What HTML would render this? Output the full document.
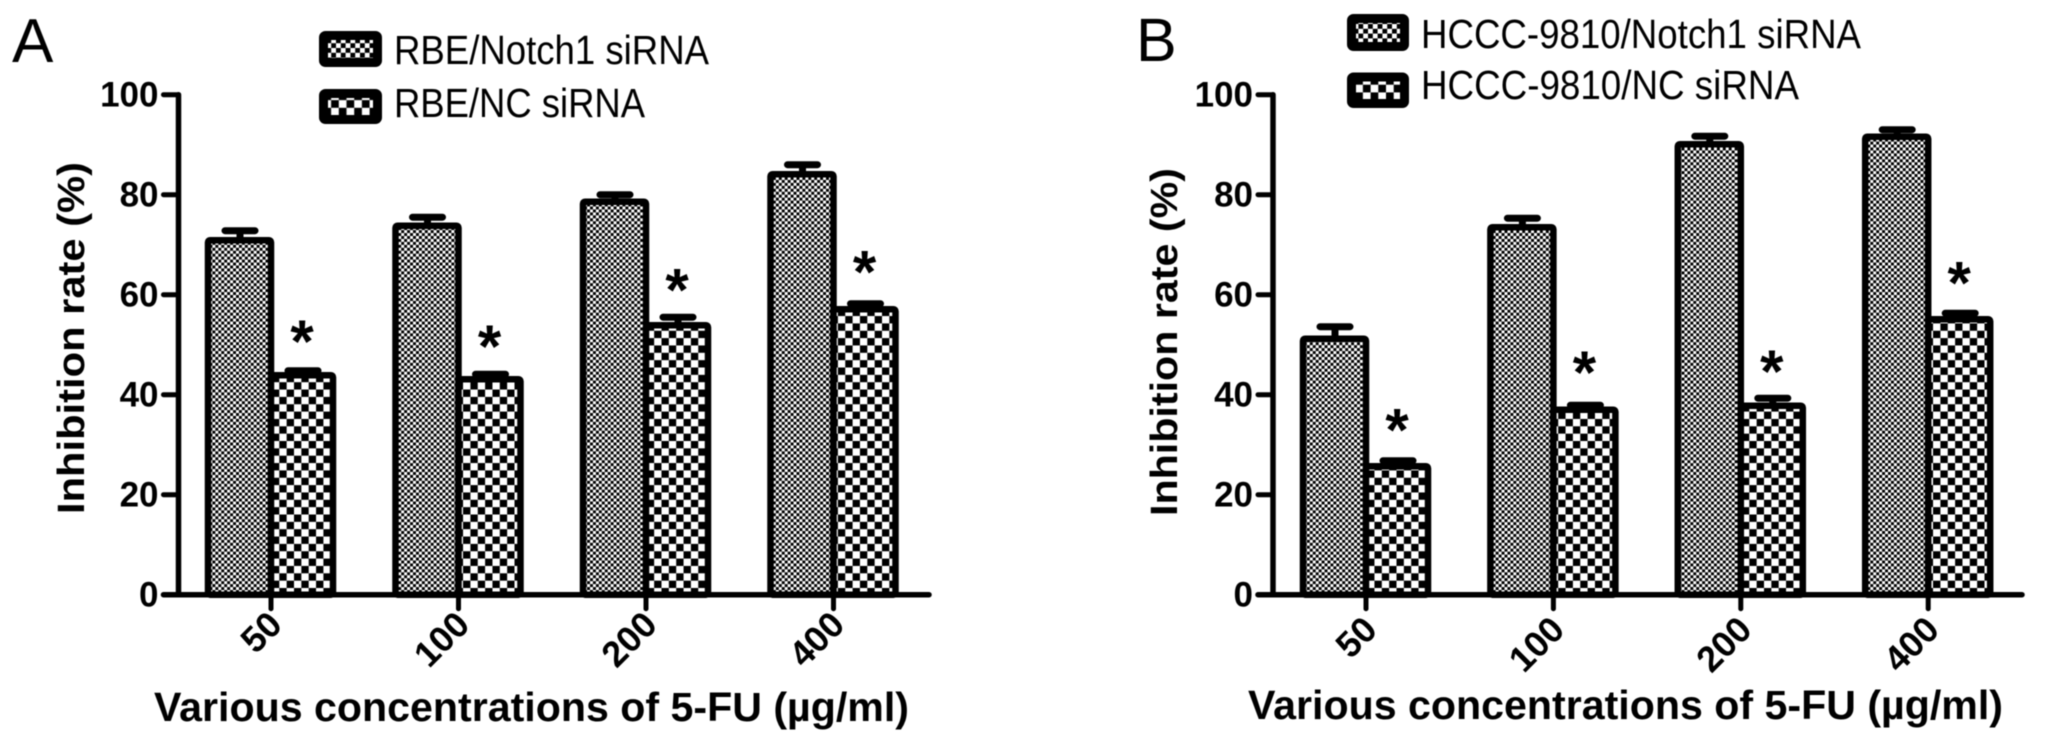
<!DOCTYPE html>
<html lang="en">
<head>
<meta charset="utf-8">
<title>Inhibition rate of 5-FU in RBE and HCCC-9810 cells</title>
<style>
html,body{margin:0;padding:0;background:#fff;width:2067px;height:743px;overflow:hidden}
svg{display:block;filter:blur(0.6px)}
text{font-family:"Liberation Sans",sans-serif;fill:#000}
.b{font-weight:bold}
</style>
</head>
<body>
<svg id="figure" xmlns="http://www.w3.org/2000/svg" width="2067" height="743" viewBox="0 0 2067 743">
<defs>
<pattern id="fine" width="5.9" height="5.9" patternUnits="userSpaceOnUse"><rect width="5.9" height="5.9" fill="#fff"/><rect width="2.95" height="2.95" fill="#000"/><rect x="2.95" y="2.95" width="2.95" height="2.95" fill="#000"/></pattern>
<pattern id="coarse" width="14.7" height="14.7" patternUnits="userSpaceOnUse"><rect width="14.7" height="14.7" fill="#fff"/><rect width="7.35" height="7.35" fill="#000"/><rect x="7.35" y="7.35" width="7.35" height="7.35" fill="#000"/></pattern>
<pattern id="fine-legend" width="9.6" height="9.6" patternUnits="userSpaceOnUse"><rect width="9.6" height="9.6" fill="#fff"/><rect width="4.8" height="4.8" fill="#000"/><rect x="4.8" y="4.8" width="4.8" height="4.8" fill="#000"/></pattern>
<pattern id="coarse-legend" width="15.4" height="15.4" patternUnits="userSpaceOnUse"><rect width="15.4" height="15.4" fill="#fff"/><rect width="7.7" height="7.7" fill="#000"/><rect x="7.7" y="7.7" width="7.7" height="7.7" fill="#000"/></pattern>
</defs>

<text x="12" y="62" font-size="62">A</text>
<text x="1136" y="61" font-size="61">B</text>

<g>
<rect x="323.5" y="35.5" width="54" height="27" rx="2" fill="url(#fine-legend)" stroke="#000" stroke-width="9"/>
<text x="394" y="64" font-size="41" textLength="315" lengthAdjust="spacingAndGlyphs">RBE/Notch1 siRNA</text>
<rect x="323.5" y="93.5" width="54" height="26" rx="2" fill="url(#coarse-legend)" stroke="#000" stroke-width="9"/>
<text x="394" y="117" font-size="41" textLength="251" lengthAdjust="spacingAndGlyphs">RBE/NC siRNA</text>
</g>
<g>
<rect x="1351.5" y="18.5" width="53" height="28" rx="2" fill="url(#fine-legend)" stroke="#000" stroke-width="9"/>
<text x="1421" y="48" font-size="41" textLength="440" lengthAdjust="spacingAndGlyphs">HCCC-9810/Notch1 siRNA</text>
<rect x="1351.5" y="77" width="53" height="26.5" rx="2" fill="url(#coarse-legend)" stroke="#000" stroke-width="9"/>
<text x="1421" y="99" font-size="41" textLength="378" lengthAdjust="spacingAndGlyphs">HCCC-9810/NC siRNA</text>
</g>

<text class="b" transform="translate(84,338) rotate(-90)" text-anchor="middle" font-size="38" textLength="352" lengthAdjust="spacingAndGlyphs">Inhibition rate (%)</text>
<text class="b" transform="translate(1177,342) rotate(-90)" text-anchor="middle" font-size="38" textLength="348" lengthAdjust="spacingAndGlyphs">Inhibition rate (%)</text>
<text class="b" x="154" y="721" font-size="41" textLength="755" lengthAdjust="spacingAndGlyphs">Various concentrations of 5-FU (µg/ml)</text>
<text class="b" x="1248" y="719" font-size="41" textLength="755" lengthAdjust="spacingAndGlyphs">Various concentrations of 5-FU (µg/ml)</text>

<g id="plot-a"></g>
<g id="plot-b"></g>
</svg>

<script>
var categories = ['50', '100', '200', '400'];
var yTickValues = [0, 20, 40, 60, 80, 100];

var rbeNotch1Values = [70.9, 73.8, 78.6, 84.1];
var rbeNotch1ErrorTops = [72.8, 75.5, 80, 86];
var rbeNcValues = [43.9, 43.1, 53.9, 57.1];
var rbeNcErrorTops = [44.8, 44.1, 55.5, 58.2];
var rbeStarLevels = [52.1, 51.1, 62.4, 66];

var hcccNotch1Values = [51.2, 73.5, 90.1, 91.6];
var hcccNotch1ErrorTops = [53.6, 75.3, 91.7, 93];
var hcccNcValues = [25.7, 37, 37.8, 55.1];
var hcccNcErrorTops = [26.8, 37.9, 39.3, 56.3];
var hcccStarLevels = [34.4, 45.9, 46.1, 63.8];

var SVGNS = 'http://www.w3.org/2000/svg';

function make(parent, tag) {
  var el = document.createElementNS(SVGNS, tag);
  parent.appendChild(el);
  return el;
}
function line(el, x1, y1, x2, y2, w) {
  el.setAttribute('x1', x1);
  el.setAttribute('y1', y1);
  el.setAttribute('x2', x2);
  el.setAttribute('y2', y2);
  el.setAttribute('stroke', '#000');
  el.setAttribute('stroke-width', w);
  el.setAttribute('stroke-linecap', 'round');
}

function drawPanel(rootId, opts, values1, tops1, values2, tops2, stars) {
  var root = document.getElementById(rootId);
  var yBase = 594.7, yPerUnit = 5;
  function yScale(v) { return yBase - v * yPerUnit; }
  function xScale(i) { return opts.firstTick + i * opts.step; }

  // bars, drawn from the data arrays
  categories.forEach(function (cat, i) {
    var c = xScale(i);

    var errA = make(root, 'path');
    
    
    var ax = c - 31;
    errA.setAttribute('d', 'M' + ax + ' ' + yScale(values1[i]) + 'V' + yScale(tops1[i]) + 'M' + (ax - 15) + ' ' + yScale(tops1[i]) + 'H' + (ax + 15));
    errA.setAttribute('stroke', '#000');
    errA.setAttribute('stroke-width', '7');
    errA.setAttribute('stroke-linecap', 'round');
    errA.setAttribute('fill', 'none');

    var errB = make(root, 'path');
    
    
    var bx = c + 32;
    errB.setAttribute('d', 'M' + bx + ' ' + yScale(values2[i]) + 'V' + yScale(tops2[i]) + 'M' + (bx - 15) + ' ' + yScale(tops2[i]) + 'H' + (bx + 15));
    errB.setAttribute('stroke', '#000');
    errB.setAttribute('stroke-width', '7');
    errB.setAttribute('stroke-linecap', 'round');
    errB.setAttribute('fill', 'none');

    var barA = make(root, 'rect');
    
    
    barA.setAttribute('x', c - 63);
    barA.setAttribute('y', yScale(values1[i]));
    barA.setAttribute('width', 63);
    barA.setAttribute('height', yBase - yScale(values1[i]));
    barA.setAttribute('rx', 2);
    barA.setAttribute('fill', 'url(#fine)');
    barA.setAttribute('stroke', '#000');
    barA.setAttribute('stroke-width', '6.5');

    var barB = make(root, 'rect');
    
    
    barB.setAttribute('x', c);
    barB.setAttribute('y', yScale(values2[i]));
    barB.setAttribute('width', 62);
    barB.setAttribute('height', yBase - yScale(values2[i]));
    barB.setAttribute('rx', 2);
    barB.setAttribute('fill', 'url(#coarse)');
    barB.setAttribute('stroke', '#000');
    barB.setAttribute('stroke-width', '6.5');

    var star = make(root, 'text');
    
    
    star.setAttribute('class', 'b');
    star.setAttribute('x', c + 31);
    star.setAttribute('y', yScale(stars[i]) + 28);
    star.setAttribute('font-size', '60');
    star.setAttribute('text-anchor', 'middle');
    star.textContent = '*';

    var tick = make(root, 'line');
    
    
    line(tick, c, yBase, c, yBase + 14, 5);

    var label = make(root, 'text');
    
    
    label.setAttribute('class', 'b');
    label.setAttribute('font-size', '36');
    label.setAttribute('text-anchor', 'end');
    label.setAttribute('transform', 'translate(' + (c + 13) + ',' + (yBase + opts.labelDrop) + ') rotate(-45)');
    label.textContent = cat;
  });

  // axes
  var yAxis = make(root, 'line');
  
  
  line(yAxis, opts.axisX, yScale(100), opts.axisX, yBase, 5.5);

  var xAxis = make(root, 'line');
  
  
  line(xAxis, opts.axisX - 15, yBase, opts.axisEnd, yBase, 5.5);

  yTickValues.forEach(function (v) {
    var t = make(root, 'line');
    
    
    line(t, opts.axisX - 15, yScale(v), opts.axisX, yScale(v), 5);

    var lab = make(root, 'text');
    
    
    lab.setAttribute('class', 'b');
    lab.setAttribute('x', opts.axisX - 20);
    lab.setAttribute('y', yScale(v) + 12);
    lab.setAttribute('font-size', '35');
    lab.setAttribute('text-anchor', 'end');
    lab.textContent = String(v);
  });
}

drawPanel('plot-a', { firstTick: 271, step: 187.5, axisX: 178.5, axisEnd: 929, labelDrop: 32 },
  rbeNotch1Values, rbeNotch1ErrorTops, rbeNcValues, rbeNcErrorTops, rbeStarLevels);
drawPanel('plot-b', { firstTick: 1366, step: 187.4, axisX: 1273, axisEnd: 2022, labelDrop: 37 },
  hcccNotch1Values, hcccNotch1ErrorTops, hcccNcValues, hcccNcErrorTops, hcccStarLevels);
</script>
</body>
</html>
